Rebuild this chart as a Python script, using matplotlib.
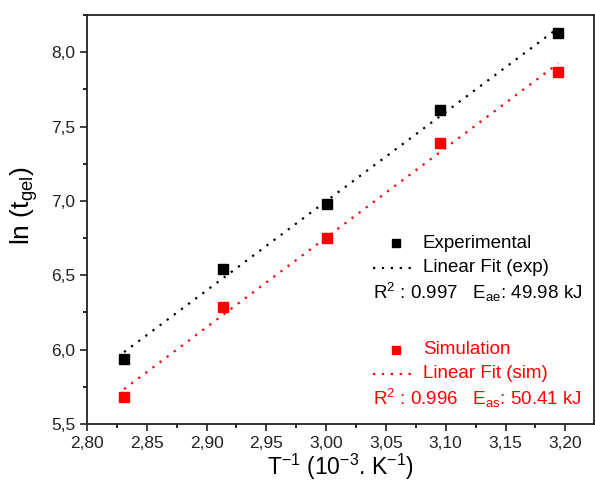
import matplotlib
matplotlib.use("Agg")
import matplotlib.pyplot as plt
import numpy as np
from matplotlib.ticker import MultipleLocator, FuncFormatter

plt.rcParams['font.family'] = ['Liberation Sans', 'DejaVu Sans']
plt.rcParams['mathtext.fontset'] = 'custom'
plt.rcParams['mathtext.rm'] = 'Liberation Sans'
plt.rcParams['mathtext.it'] = 'Liberation Sans:italic'

x_exp = [2.831, 2.914, 3.001, 3.095, 3.194]
y_exp = [5.94, 6.54, 6.98, 7.61, 8.13]
x_sim = [2.831, 2.914, 3.001, 3.095, 3.194]
y_sim = [5.68, 6.29, 6.75, 7.39, 7.87]

fig = plt.figure(figsize=(5.95, 4.87), dpi=100)
ax = fig.add_axes([87/595, 1-424/487, (594-87)/595, (424-15)/487])

for xs, ys, c in [(x_exp, y_exp, 'black'), (x_sim, y_sim, 'red')]:
    p = np.polyfit(xs, ys, 1)
    xf = np.array([min(xs), max(xs)])
    ax.plot(xf, np.polyval(p, xf), linestyle=(0, (1, 3)), color=c, lw=1.6)
    ax.plot(xs, ys, 's', color=c, ms=7, mec=c)

ax.set_xlim(2.80, 3.224)
ax.set_ylim(5.5, 8.25)
ax.xaxis.set_major_locator(MultipleLocator(0.05))
ax.xaxis.set_minor_locator(MultipleLocator(0.025))
ax.yaxis.set_major_locator(MultipleLocator(0.5))
ax.yaxis.set_minor_locator(MultipleLocator(0.25))
ax.xaxis.set_major_formatter(FuncFormatter(lambda v, p: f"{v:.2f}".replace('.', ',')))
ax.yaxis.set_major_formatter(FuncFormatter(lambda v, p: f"{v:.1f}".replace('.', ',')))
ax.tick_params(which='major', direction='out', length=5, width=1.2, labelsize=12.5, colors='#222222')
ax.tick_params(which='minor', direction='out', length=3, width=1.2)
for s in ax.spines.values():
    s.set_linewidth(1.3)
    s.set_color('#222222')

ax.set_xlabel(r'T$^{-1}$ (10$^{-3}$. K$^{-1}$)', fontsize=16.5, labelpad=1)
ax.set_ylabel(r'ln (t$_{\mathregular{gel}}$)', fontsize=19)
ax.yaxis.set_label_coords(-0.092, 0.535)

fs = 13.5
def fx(px):
    return px / 595
def fy(py):
    return 1 - py/487

fig.lines.append(plt.Line2D([fx(396)], [fy(243)], marker='s', color='black', ms=6, ls='none', transform=fig.transFigure))
fig.text(fx(423), fy(243), 'Experimental', fontsize=fs, va='center', color='black')
fig.lines.append(plt.Line2D([fx(373), fx(412)], [fy(268), fy(268)], ls=(0, (1, 3)), color='black', lw=1.6, transform=fig.transFigure))
fig.text(fx(423), fy(268), 'Linear Fit (exp)', fontsize=fs, va='center', color='black')
fig.text(fx(373), fy(292), r'R$^{2}$ : 0.997   E$_{\mathregular{ae}}$: 49.98 kJ', fontsize=fs, va='center', color='black')

fig.lines.append(plt.Line2D([fx(396)], [fy(350)], marker='s', color='red', ms=6, ls='none', transform=fig.transFigure))
fig.text(fx(423), fy(350), 'Simulation', fontsize=fs, va='center', color='red')
fig.lines.append(plt.Line2D([fx(373), fx(412)], [fy(374), fy(374)], ls=(0, (1, 3)), color='red', lw=1.6, transform=fig.transFigure))
fig.text(fx(423), fy(374), 'Linear Fit (sim)', fontsize=fs, va='center', color='red')
fig.text(fx(373), fy(398), r'R$^{2}$ : 0.996   E$_{\mathregular{as}}$: 50.41 kJ', fontsize=fs, va='center', color='red')

fig.savefig('out.png', dpi=100)
